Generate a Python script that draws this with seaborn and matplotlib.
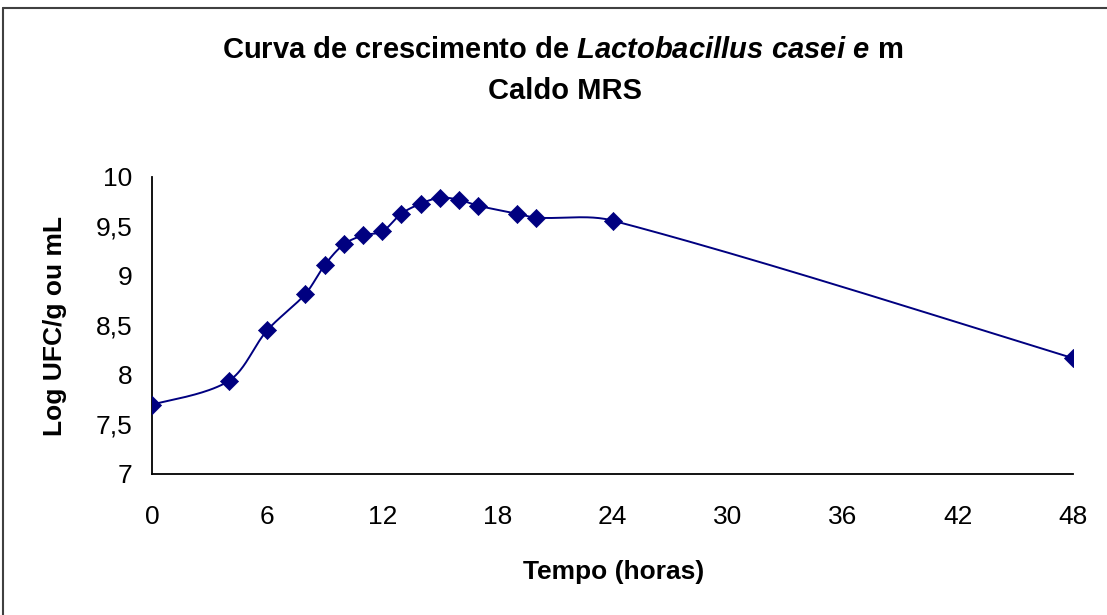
import numpy as np
import pandas as pd
import matplotlib
matplotlib.use("Agg")
import matplotlib.pyplot as plt
from matplotlib.lines import Line2D
from matplotlib.ticker import FuncFormatter
import seaborn as sns

# dados
tempo_h = [0, 4, 6, 8, 9, 10, 11, 12, 13, 14, 15, 16, 17, 19, 20, 24, 48]
log_ufc = [7.70, 7.94, 8.45, 8.82, 9.11, 9.32, 9.41, 9.45, 9.63, 9.73,
           9.79, 9.77, 9.71, 9.63, 9.59, 9.56, 8.17]
x_ticks = [0, 6, 12, 18, 24, 30, 36, 42, 48]
y_ticks = [7, 7.5, 8, 8.5, 9, 9.5, 10]

sns.set_theme(style="white")
plt.rcParams["font.family"] = ["Liberation Sans", "DejaVu Sans"]
plt.rcParams["text.color"] = "black"
plt.rcParams["mathtext.fontset"] = "custom"
plt.rcParams["mathtext.it"] = "Liberation Sans:italic:bold"
plt.rcParams["mathtext.rm"] = "Liberation Sans:bold"
plt.rcParams["mathtext.bf"] = "Liberation Sans:bold"

df = pd.DataFrame({"tempo": tempo_h, "log": log_ufc})


def smooth_curve(x, y, sx=19.19, sy=99.0, n=40):
    # linha suavizada estilo Excel, calculada em escala de pixels
    p = np.column_stack([np.asarray(x, float) * sx, np.asarray(y, float) * sy])
    m = len(p)
    d = np.linalg.norm(np.diff(p, axis=0), axis=1)
    out = []
    for i in range(m - 1):
        if i == 0:
            c1 = p[0] + (p[1] - p[0]) / 6
        else:
            c1 = p[i] + (p[i + 1] - p[i - 1]) * d[i] / (d[i - 1] + d[i]) / 3
        if i + 2 >= m:
            c2 = p[i + 1] - (p[i + 1] - p[i]) / 6
        else:
            c2 = p[i + 1] - (p[i + 2] - p[i]) * d[i] / (d[i] + d[i + 1]) / 3
        t = np.linspace(0, 1, n)[:, None]
        seg = ((1 - t) ** 3 * p[i] + 3 * (1 - t) ** 2 * t * c1
               + 3 * (1 - t) * t ** 2 * c2 + t ** 3 * p[i + 1])
        out.append(seg)
    out = np.vstack(out)
    return out[:, 0] / sx, out[:, 1] / sy


fig = plt.figure(figsize=(11.07, 6.15), dpi=100)
ax = fig.add_axes([0.1373, 0.2293, 0.832, 0.4829])

cx, cy = smooth_curve(tempo_h, log_ufc)
ax.plot(cx, cy, color="#000080", lw=1.4, zorder=2)
sns.scatterplot(data=df, x="tempo", y="log", marker="D", s=85,
                color="#000080", edgecolor="#000080", linewidth=0.5,
                ax=ax, zorder=3, legend=False)

ax.set_xlim(0, 48)
ax.set_ylim(7, 10)
ax.set_xticks(x_ticks)
ax.set_yticks(y_ticks)
ax.yaxis.set_major_formatter(FuncFormatter(lambda v, p: f"{v:g}".replace(".", ",")))
ax.tick_params(axis="both", labelsize=19, colors="black", labelcolor="black",
               length=10, width=1.3, direction="out")
ax.tick_params(axis="x", pad=12)
ax.tick_params(axis="y", pad=4)
for sp in ["top", "right"]:
    ax.spines[sp].set_visible(False)
for sp in ["left", "bottom"]:
    ax.spines[sp].set_color("black")
    ax.spines[sp].set_linewidth(1.3)
ax.set_xlabel("")
ax.set_ylabel("")

fig.text(0.508, 0.919, r"Curva de crescimento de $\it{Lactobacillus\ casei\ e}$ m",
         ha="center", va="center", fontsize=21, fontweight="bold", color="black")
fig.text(0.510, 0.852, "Caldo MRS", ha="center", va="center",
         fontsize=21, fontweight="bold", color="black")
fig.text(0.554, 0.070, "Tempo (horas)", ha="center", va="center",
         fontsize=19, fontweight="bold", color="black")
fig.text(0.050, 0.470, "Log UFC/g ou mL", ha="center", va="center",
         rotation=90, fontsize=19, fontweight="bold", color="black")

# moldura da área do gráfico
fig.add_artist(Line2D([0.003, 0.003], [0.0, 0.987], color="#404040", lw=1.5,
                      transform=fig.transFigure))
fig.add_artist(Line2D([0.003, 1.0], [0.987, 0.987], color="#404040", lw=1.5,
                      transform=fig.transFigure))

fig.savefig("out.png", dpi=100)
